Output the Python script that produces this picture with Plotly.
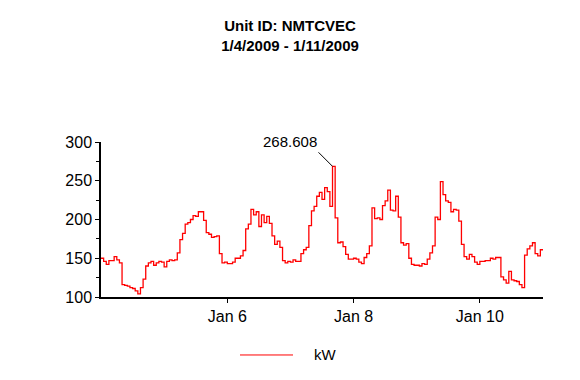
import plotly.graph_objects as go
import pandas as pd

# Hourly kW readings, 1/4/2009 00:00 ... 1/11/2009 00:00
day_jan4 = [150, 146, 142, 147, 147, 152, 148, 144, 116, 115, 114, 112,
            111, 108, 104, 112, 123, 140, 144, 146, 141, 144, 146, 145]
day_jan5 = [139, 146, 148, 147, 148, 157, 174, 182, 194, 196, 200, 205,
            204, 210, 210, 199, 183, 181, 177, 178, 179, 156, 144, 145]
day_jan6 = [143, 143, 145, 150, 150, 153, 160, 188, 194, 213, 206, 210,
            191, 206, 196, 204, 195, 179, 168, 172, 164, 147, 144, 146]
day_jan7 = [145, 148, 146, 146, 156, 161, 164, 192, 211, 217, 230, 235,
            226, 241, 236, 217, 268.608, 202, 170, 171, 165, 155, 149, 149]
day_jan8 = [150, 149, 145, 143, 151, 156, 166, 215, 201, 202, 200, 218,
            224, 238, 212, 211, 230, 203, 170, 167, 169, 150, 142, 141]
day_jan9 = [141, 140, 143, 142, 149, 157, 166, 203, 200, 249, 232, 224,
            222, 210, 213, 212, 198, 168, 152, 149, 155, 152, 145, 142]
day_jan10 = [146, 146, 147, 147, 150, 149, 151, 151, 126, 122, 118, 133,
             122, 121, 120, 116, 112, 154, 162, 166, 170, 156, 153, 161]
day_jan11 = [160]

kw = day_jan4 + day_jan5 + day_jan6 + day_jan7 + day_jan8 + day_jan9 + day_jan10 + day_jan11
times = pd.date_range("2009-01-04 00:00", periods=len(kw), freq="h")

title_lines = ["Unit ID: NMTCVEC", "1/4/2009 - 1/11/2009"]
x_tick_vals = ["2009-01-06", "2009-01-08", "2009-01-10"]
x_tick_text = ["Jan 6", "Jan 8", "Jan 10"]
y_tick_vals = [100, 150, 200, 250, 300]
series_name = "kW"

peak_idx = max(range(len(kw)), key=lambda i: kw[i])

FONT = "Liberation Sans, Arial, sans-serif"

fig = go.Figure()
fig.add_trace(go.Scatter(x=times, y=kw, mode="lines", name=series_name,
                         line=dict(color="#FF0000", width=1.3, shape="hv"),
                         showlegend=False))

fig.add_annotation(x=times[peak_idx], y=kw[peak_idx], text=f"{kw[peak_idx]:.3f}",
                   showarrow=True, arrowhead=0, arrowwidth=1, arrowcolor="black",
                   ax=-14, ay=-14, xanchor="right", yanchor="bottom",
                   font=dict(family=FONT, size=15, color="black"))

# legend (drawn manually to match the long sample line)
fig.add_shape(type="line", xref="paper", yref="paper",
              x0=0.3145, x1=0.4344, y0=-0.374, y1=-0.374,
              line=dict(color="#FF0000", width=1))
fig.add_annotation(xref="paper", yref="paper", x=0.477, y=-0.374,
                   text=series_name, showarrow=False, xanchor="left", yanchor="middle",
                   font=dict(family=FONT, size=15, color="black"))

W, H = 572, 372  # page body has an 8px margin
fig.update_layout(
    width=W, height=H,
    margin=dict(l=93, r=37, t=134, b=83),
    paper_bgcolor="white", plot_bgcolor="white",
    title=dict(text="<b>" + "<br>".join(title_lines) + "</b>",
               x=282 / W, xanchor="center", xref="container",
               y=1 - 23 / H, yanchor="top", yref="container",
               font=dict(family=FONT, size=15, color="black")),
    font=dict(family=FONT, color="black"),
)
fig.update_xaxes(range=["2009-01-04 00:00", "2009-01-11 00:00"],
                 tickvals=x_tick_vals, ticktext=x_tick_text,
                 showline=True, linecolor="black", linewidth=1.5,
                 ticks="outside", ticklen=4, tickcolor="black",
                 showgrid=False, zeroline=False,
                 tickfont=dict(family=FONT, size=16, color="black"))
fig.update_yaxes(range=[100, 300], tickvals=y_tick_vals,
                 showline=True, linecolor="black", linewidth=1.5,
                 ticks="outside", ticklen=4, tickcolor="black",
                 minor=dict(dtick=25, tick0=100, ticks="outside", ticklen=3, tickcolor="black"),
                 showgrid=False, zeroline=False,
                 tickfont=dict(family=FONT, size=16, color="black"))

fig.write_html("out.html")
